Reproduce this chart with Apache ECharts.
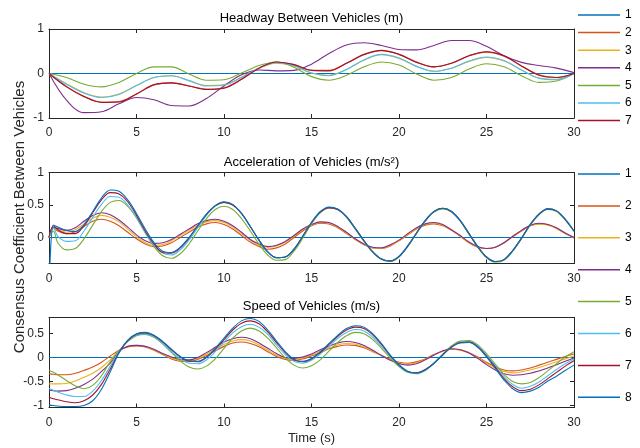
<!DOCTYPE html>
<html><head><meta charset="utf-8">
<script src="https://cdn.jsdelivr.net/npm/echarts@6/dist/echarts.min.js"></script>
<style>html,body{margin:0;padding:0;background:#fff}#c{width:640px;height:448px}</style>
</head><body><div id="c"></div>
<script>
const FONT = "'Liberation Sans', Arial, Helvetica, sans-serif";
const INK = '#262626';

// ---- time bases ----
const timeHeadway = [0,1,2,3,4,5,6,7,8,9,10,11,12,13,14,15,16,17,18,19,20,21,22,23,24,25,26,27,28,29,30];
const timeFine = [0,0.25,0.5,1,1.5,2,2.5,3,3.5,4,4.5,5,5.5,6,6.5,7,7.5,8,8.5,9,9.5,10,10.5,11,11.5,12,12.5,13,13.5,14,14.5,15,15.5,16,16.5,17,17.5,18,18.5,19,19.5,20,20.5,21,21.5,22,22.5,23,23.5,24,24.5,25,25.5,26,26.5,27,27.5,28,28.5,29,29.5,30];
const timeFlat = [0, 30];
const flatZero = [0, 0];

// ---- Panel 1: Headway Between Vehicles (m) ----
const headway2 = [0,-0.29,-0.51,-0.64,-0.63,-0.46,-0.26,-0.21,-0.28,-0.35,-0.32,-0.13,0.12,0.25,0.20,0.07,0.07,0.23,0.42,0.51,0.43,0.26,0.15,0.23,0.40,0.48,0.39,0.17,-0.03,-0.09,0.00];
const headway3 = [0,-0.23,-0.43,-0.53,-0.46,-0.27,-0.09,-0.05,-0.16,-0.27,-0.25,-0.08,0.12,0.23,0.17,0.01,-0.04,0.09,0.30,0.42,0.34,0.16,0.05,0.12,0.27,0.36,0.28,0.08,-0.10,-0.13,0.00];
const headway4 = [0,-0.60,-0.88,-0.86,-0.68,-0.54,-0.59,-0.72,-0.73,-0.56,-0.28,-0.03,0.08,0.06,0.07,0.21,0.45,0.64,0.69,0.63,0.54,0.53,0.63,0.74,0.74,0.61,0.40,0.25,0.18,0.12,0.02];
const headway5 = [0,-0.09,-0.24,-0.30,-0.20,0.00,0.15,0.15,-0.01,-0.15,-0.14,0.01,0.18,0.26,0.14,-0.07,-0.15,-0.04,0.15,0.26,0.19,-0.01,-0.15,-0.09,0.10,0.22,0.15,-0.05,-0.20,-0.17,0.00];
const headway6 = [0,-0.24,-0.44,-0.54,-0.47,-0.27,-0.09,-0.05,-0.16,-0.28,-0.26,-0.09,0.12,0.24,0.18,0.01,-0.05,0.09,0.31,0.43,0.35,0.16,0.05,0.12,0.28,0.37,0.29,0.08,-0.11,-0.14,0.00];
const headway7 = [0,-0.30,-0.52,-0.65,-0.64,-0.46,-0.25,-0.21,-0.28,-0.36,-0.33,-0.13,0.12,0.26,0.20,0.07,0.06,0.23,0.43,0.52,0.43,0.25,0.15,0.23,0.40,0.49,0.40,0.17,-0.04,-0.09,0.00];

// ---- Panel 2: Acceleration of Vehicles (m/s^2) ----
const accel2 = [0,0.14,0.10,0.06,0.09,0.17,0.25,0.28,0.25,0.18,0.08,-0.02,-0.10,-0.14,-0.13,-0.08,0.00,0.08,0.16,0.21,0.23,0.20,0.13,0.03,-0.07,-0.14,-0.18,-0.16,-0.10,0.00,0.10,0.18,0.22,0.21,0.15,0.06,-0.03,-0.11,-0.16,-0.17,-0.13,-0.05,0.04,0.13,0.19,0.21,0.18,0.11,0.02,-0.08,-0.15,-0.17,-0.15,-0.08,0.01,0.10,0.18,0.21,0.20,0.14,0.06,0.00];
const accel3 = [0,0.15,0.12,0.08,0.12,0.21,0.30,0.34,0.31,0.24,0.13,0.01,-0.08,-0.12,-0.11,-0.05,0.03,0.11,0.19,0.24,0.26,0.23,0.16,0.06,-0.04,-0.12,-0.15,-0.13,-0.07,0.02,0.12,0.19,0.23,0.22,0.16,0.07,-0.03,-0.11,-0.16,-0.17,-0.12,-0.05,0.05,0.14,0.20,0.22,0.19,0.11,0.02,-0.08,-0.15,-0.17,-0.15,-0.08,0.02,0.11,0.18,0.21,0.19,0.14,0.06,-0.01];
const accel4 = [0,0.16,0.14,0.11,0.15,0.25,0.34,0.38,0.35,0.27,0.16,0.04,-0.05,-0.09,-0.08,-0.03,0.05,0.13,0.21,0.26,0.28,0.25,0.18,0.08,-0.03,-0.10,-0.14,-0.12,-0.06,0.03,0.13,0.20,0.24,0.23,0.17,0.08,-0.02,-0.10,-0.15,-0.16,-0.11,-0.04,0.06,0.15,0.21,0.23,0.20,0.12,0.03,-0.07,-0.14,-0.17,-0.15,-0.08,0.02,0.11,0.19,0.22,0.20,0.15,0.07,0.00];
const accel5 = [0,0.10,-0.08,-0.19,-0.17,-0.02,0.19,0.40,0.54,0.57,0.48,0.30,0.07,-0.14,-0.28,-0.32,-0.25,-0.10,0.10,0.29,0.43,0.48,0.43,0.29,0.10,-0.10,-0.27,-0.35,-0.34,-0.21,-0.01,0.21,0.38,0.45,0.43,0.31,0.13,-0.06,-0.23,-0.34,-0.37,-0.30,-0.14,0.06,0.25,0.39,0.44,0.39,0.25,0.05,-0.15,-0.31,-0.38,-0.35,-0.21,-0.02,0.19,0.35,0.43,0.40,0.27,0.09];
const accel6 = [0,0.15,0.02,-0.06,-0.05,0.10,0.31,0.51,0.63,0.62,0.50,0.31,0.08,-0.12,-0.24,-0.27,-0.19,-0.04,0.15,0.34,0.48,0.54,0.50,0.37,0.17,-0.04,-0.22,-0.31,-0.30,-0.18,0.02,0.23,0.39,0.46,0.43,0.32,0.14,-0.05,-0.22,-0.33,-0.36,-0.29,-0.13,0.07,0.26,0.40,0.45,0.40,0.26,0.06,-0.14,-0.30,-0.37,-0.34,-0.20,-0.01,0.20,0.36,0.44,0.41,0.28,0.10];
const accel7 = [0,0.18,0.12,0.06,0.06,0.18,0.38,0.58,0.69,0.67,0.55,0.34,0.10,-0.10,-0.23,-0.24,-0.16,-0.01,0.18,0.36,0.49,0.54,0.50,0.37,0.17,-0.04,-0.22,-0.31,-0.30,-0.18,0.02,0.23,0.39,0.46,0.43,0.32,0.14,-0.05,-0.22,-0.33,-0.36,-0.29,-0.13,0.07,0.26,0.40,0.45,0.40,0.26,0.06,-0.14,-0.30,-0.37,-0.34,-0.20,-0.01,0.20,0.36,0.44,0.41,0.28,0.10];
const accel8 = [-0.9,0.19,0.16,0.11,0.09,0.20,0.40,0.61,0.73,0.71,0.58,0.37,0.13,-0.08,-0.21,-0.23,-0.15,0.00,0.18,0.36,0.49,0.55,0.51,0.37,0.17,-0.04,-0.22,-0.31,-0.30,-0.18,0.02,0.23,0.40,0.47,0.44,0.32,0.14,-0.05,-0.22,-0.33,-0.36,-0.29,-0.13,0.07,0.26,0.40,0.45,0.40,0.26,0.06,-0.14,-0.30,-0.37,-0.34,-0.20,-0.01,0.20,0.36,0.44,0.41,0.28,0.10];

// ---- Panel 3: Speed of Vehicles (m/s) ----
const speed2 = [-0.34,-0.35,-0.36,-0.36,-0.33,-0.27,-0.20,-0.10,0.03,0.15,0.22,0.24,0.22,0.15,0.06,-0.03,-0.08,-0.09,-0.04,0.04,0.14,0.23,0.30,0.32,0.29,0.22,0.12,0.02,-0.04,-0.06,-0.03,0.03,0.10,0.18,0.23,0.26,0.25,0.20,0.12,0.04,-0.04,-0.10,-0.12,-0.09,-0.03,0.06,0.13,0.17,0.16,0.10,0.01,-0.10,-0.19,-0.26,-0.28,-0.26,-0.22,-0.16,-0.10,-0.04,0.02,0.07];
const speed3 = [-0.55,-0.55,-0.55,-0.54,-0.49,-0.41,-0.33,-0.21,-0.05,0.14,0.23,0.25,0.23,0.16,0.07,-0.01,-0.06,-0.07,-0.02,0.07,0.17,0.27,0.34,0.37,0.34,0.26,0.15,0.05,-0.02,-0.04,-0.01,0.05,0.13,0.20,0.26,0.29,0.28,0.22,0.13,0.04,-0.05,-0.12,-0.14,-0.11,-0.04,0.05,0.13,0.17,0.15,0.09,-0.01,-0.12,-0.22,-0.29,-0.32,-0.30,-0.26,-0.21,-0.15,-0.09,-0.03,0.03];
const speed4 = [-0.68,-0.69,-0.70,-0.69,-0.64,-0.56,-0.45,-0.29,-0.12,0.13,0.23,0.25,0.23,0.17,0.08,0.01,-0.04,-0.05,0.00,0.10,0.21,0.32,0.39,0.42,0.39,0.30,0.19,0.08,0.00,-0.02,0.01,0.07,0.16,0.24,0.30,0.33,0.31,0.25,0.15,0.04,-0.06,-0.13,-0.16,-0.13,-0.05,0.05,0.14,0.18,0.16,0.09,-0.02,-0.15,-0.26,-0.34,-0.37,-0.36,-0.33,-0.28,-0.22,-0.15,-0.08,-0.01];
const speed5 = [-0.27,-0.31,-0.36,-0.48,-0.59,-0.65,-0.58,-0.38,-0.09,0.14,0.33,0.45,0.48,0.42,0.28,0.10,-0.07,-0.20,-0.24,-0.18,-0.03,0.19,0.40,0.55,0.61,0.55,0.40,0.20,-0.01,-0.16,-0.22,-0.17,-0.05,0.13,0.31,0.45,0.52,0.49,0.37,0.19,-0.01,-0.19,-0.31,-0.34,-0.27,-0.12,0.07,0.24,0.34,0.35,0.26,0.08,-0.14,-0.35,-0.50,-0.55,-0.52,-0.42,-0.28,-0.13,0.01,0.12];
const speed6 = [-0.64,-0.68,-0.72,-0.78,-0.81,-0.81,-0.70,-0.48,-0.18,0.12,0.34,0.46,0.49,0.43,0.29,0.12,-0.03,-0.12,-0.13,-0.05,0.12,0.32,0.51,0.64,0.69,0.63,0.48,0.26,0.06,-0.08,-0.12,-0.06,0.07,0.23,0.40,0.52,0.58,0.55,0.42,0.23,0.02,-0.17,-0.30,-0.33,-0.26,-0.12,0.06,0.22,0.32,0.33,0.24,0.05,-0.17,-0.40,-0.56,-0.64,-0.60,-0.51,-0.38,-0.25,-0.13,-0.03];
const speed7 = [-0.82,-0.86,-0.88,-0.92,-0.94,-0.90,-0.78,-0.56,-0.24,0.10,0.35,0.48,0.51,0.45,0.32,0.16,0.01,-0.08,-0.09,0.00,0.17,0.37,0.57,0.71,0.76,0.70,0.53,0.31,0.10,-0.05,-0.09,-0.03,0.10,0.27,0.44,0.57,0.63,0.60,0.47,0.27,0.04,-0.16,-0.29,-0.32,-0.25,-0.12,0.06,0.22,0.31,0.32,0.22,0.03,-0.20,-0.44,-0.61,-0.69,-0.66,-0.57,-0.44,-0.31,-0.18,-0.07];
const speed8 = [-0.99,-1.00,-1.01,-1.02,-1.02,-1.00,-0.90,-0.66,-0.30,0.10,0.36,0.49,0.52,0.46,0.33,0.17,0.02,-0.07,-0.08,0.01,0.19,0.40,0.61,0.76,0.81,0.75,0.57,0.34,0.12,-0.04,-0.08,-0.02,0.12,0.29,0.46,0.60,0.66,0.63,0.49,0.29,0.05,-0.15,-0.29,-0.32,-0.26,-0.12,0.05,0.21,0.30,0.31,0.21,0.01,-0.23,-0.47,-0.65,-0.73,-0.70,-0.62,-0.49,-0.39,-0.27,-0.16];

// ---- labels ----
const seriesNames = ['1','2','3','4','5','6','7','8'];
const panelTitles = ['Headway Between Vehicles (m)', 'Acceleration of Vehicles (m/s\u00B2)', 'Speed of Vehicles (m/s)'];
const yTitle = 'Consensus Coefficient Between Vehicles';
const xTitle = 'Time (s)';
const yTicks = [[-1, 0, 1], [0, 0.5, 1], [-1, -0.5, 0, 0.5]];
const yRanges = [[-1, 1], [-0.4, 1], [-1.04, 0.83]];
const colors = ['#0072BD','#D95319','#EDB120','#7E2F8E','#77AC30','#4DBEEE','#A2142F','#0072BD'];

const panels = [
  [[timeFlat, flatZero], [timeHeadway, headway2], [timeHeadway, headway3], [timeHeadway, headway4], [timeHeadway, headway5], [timeHeadway, headway6], [timeHeadway, headway7]],
  [[timeFlat, flatZero], [timeFine, accel2], [timeFine, accel3], [timeFine, accel4], [timeFine, accel5], [timeFine, accel6], [timeFine, accel7], [timeFine, accel8]],
  [[timeFlat, flatZero], [timeFine, speed2], [timeFine, speed3], [timeFine, speed4], [timeFine, speed5], [timeFine, speed6], [timeFine, speed7], [timeFine, speed8]]
];

const grids = [
  {left: 49, right: 66, top: 29, height: 89},
  {left: 49, right: 66, top: 172.5, height: 91},
  {left: 49, right: 66, top: 317.5, height: 90}
];

const xAxes = [], yAxes = [], series = [];
grids.forEach((g, k) => {
  ['bottom', 'top'].forEach(pos => {
    xAxes.push({
      type: 'value', gridIndex: k, position: pos, min: 0, max: 30, interval: 5,
      axisLine: {show: true, onZero: false, lineStyle: {color: INK, width: 1}},
      axisTick: {show: true, inside: true, length: 4, lineStyle: {color: INK}},
      axisLabel: {show: pos === 'bottom', color: INK, fontSize: 12, fontFamily: FONT, margin: 9},
      splitLine: {show: false}
    });
  });
  ['left', 'right'].forEach(pos => {
    yAxes.push({
      type: 'value', gridIndex: k, position: pos, min: yRanges[k][0], max: yRanges[k][1],
      axisLine: {show: true, onZero: false, lineStyle: {color: INK, width: 1}},
      axisTick: {show: true, inside: true, length: 4, lineStyle: {color: INK}, customValues: yTicks[k]},
      axisLabel: {show: pos === 'left', color: INK, fontSize: 12, fontFamily: FONT, margin: 5, customValues: yTicks[k]},
      splitLine: {show: false}
    });
  });
  panels[k].forEach((pair, i) => {
    const [ts, vs] = pair;
    series.push({
      type: 'line', name: seriesNames[i], xAxisIndex: 2 * k, yAxisIndex: 2 * k,
      data: ts.map((t, j) => [t, vs[j]]),
      symbol: 'none', smooth: 0.35, clip: true,
      lineStyle: {color: colors[i], width: 1.1},
      itemStyle: {color: colors[i]},
      emphasis: {disabled: true}
    });
  });
});

const legendText = {color: '#000', fontSize: 12, lineHeight: 12, fontFamily: FONT};
const legendBase = {orient: 'vertical', left: 578, padding: 0, icon: 'rect', itemWidth: 42, itemHeight: 1.5, selectedMode: false, textStyle: legendText};
const option = {
  animation: false,
  backgroundColor: '#fff',
  grid: grids,
  xAxis: xAxes,
  yAxis: yAxes,
  series: series,
  legend: [
    Object.assign({}, legendBase, {data: seriesNames.slice(0, 7), top: 9, itemGap: 5.6}),
    Object.assign({}, legendBase, {data: seriesNames.slice(0, 8), top: 168, itemGap: 19.9})
  ],
  graphic: [
    {type: 'text', x: 311.5, y: 18, style: {text: panelTitles[0], fontSize: 13, fontFamily: FONT, fill: '#000', align: 'center', verticalAlign: 'middle'}},
    {type: 'text', x: 311.5, y: 162, style: {text: panelTitles[1], fontSize: 13, fontFamily: FONT, fill: '#000', align: 'center', verticalAlign: 'middle'}},
    {type: 'text', x: 311.5, y: 306, style: {text: panelTitles[2], fontSize: 13, fontFamily: FONT, fill: '#000', align: 'center', verticalAlign: 'middle'}},
    {type: 'text', x: 311.5, y: 438, style: {text: xTitle, fontSize: 13, fontFamily: FONT, fill: INK, align: 'center', verticalAlign: 'middle'}},
    {type: 'text', x: 20, y: 217, rotation: Math.PI / 2, style: {text: yTitle, fontSize: 15, fontFamily: FONT, fill: INK, align: 'center', verticalAlign: 'middle'}}
  ]
};
const chart = echarts.init(document.getElementById('c'), null, {renderer: 'canvas'});
chart.setOption(option);
</script></body></html>
